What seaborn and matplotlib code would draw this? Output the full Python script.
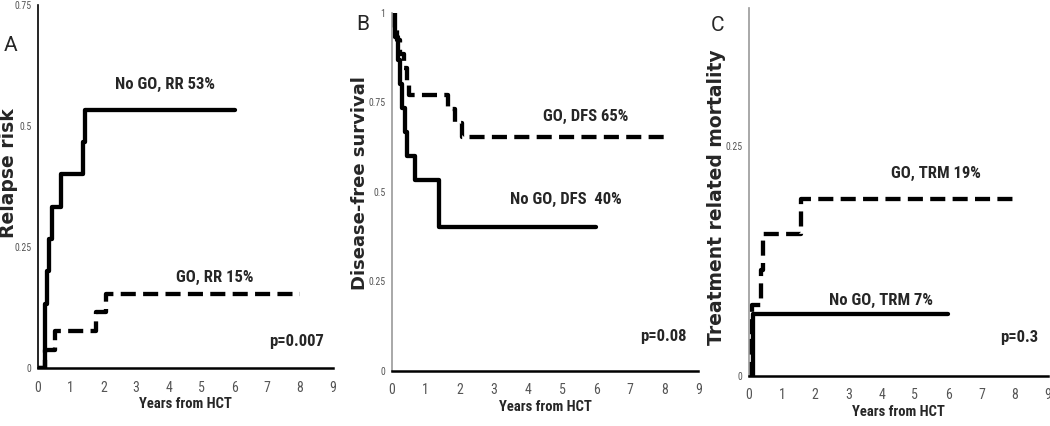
import matplotlib
matplotlib.use("Agg")
import pandas as pd
import seaborn as sns
import matplotlib.pyplot as plt
from matplotlib import font_manager

# --- data (years from HCT, step values) ---
# A: relapse risk (cumulative incidence)
a_nogo_t = [0, 0.22, 0.27, 0.35, 0.42, 0.70, 1.39, 1.44, 6.0]
a_nogo_v = [0, 0.133, 0.2, 0.267, 0.333, 0.4, 0.467, 0.533, 0.533]
a_go_t = [0, 0.22, 0.53, 1.79, 2.08, 8.0]
a_go_v = [0, 0.038, 0.077, 0.115, 0.154, 0.154]

# B: disease-free survival
b_nogo_t = [0, 0.10, 0.20, 0.25, 0.30, 0.38, 0.44, 0.70, 1.40, 6.0]
b_nogo_v = [1.0, 0.933, 0.867, 0.8, 0.733, 0.667, 0.6, 0.533, 0.4, 0.4]
b_go_t = [0, 0.08, 0.15, 0.25, 0.35, 0.45, 0.50, 1.65, 1.85, 2.07, 8.0]
b_go_v = [1.0, 0.962, 0.923, 0.885, 0.846, 0.808, 0.769, 0.731, 0.692, 0.654, 0.654]

# C: treatment related mortality
c_nogo_t = [0, 0.13, 6.0]
c_nogo_v = [0, 0.067, 0.067]
c_go_t = [0, 0.04, 0.11, 0.38, 0.43, 1.58, 8.0]
c_go_v = [0, 0.038, 0.077, 0.115, 0.154, 0.192, 0.192]

x_ticks = list(range(0, 10))

sns.set_style("white")
installed = {f.name for f in font_manager.fontManager.ttflist}
narrow = next((n for n in ["Roboto Condensed", "Archivo Narrow", "Liberation Sans"] if n in installed),
              "DejaVu Sans")
plt.rcParams["font.family"] = [narrow, "DejaVu Sans"]

fig = plt.figure(figsize=(10.5, 4.26), dpi=100)


def curve(ax, t, v, dashed):
    df = pd.DataFrame({"t": t, "v": v})
    sns.lineplot(data=df, x="t", y="v", ax=ax, drawstyle="steps-post",
                 estimator=None, sort=False, color="black", lw=3.1)
    if dashed:
        ax.lines[-1].set_dashes((3.5, 1.7))


def style(ax, ylim, yticks, spine_col):
    ax.set_xlim(0, 9)
    ax.set_ylim(*ylim)
    ax.set_xticks(x_ticks)
    ax.set_yticks(yticks)
    ax.set_yticklabels([f"{y:g}" for y in yticks])
    for s in ["top", "right"]:
        ax.spines[s].set_visible(False)
    ax.spines["left"].set_color(spine_col)
    ax.spines["left"].set_linewidth(1.2)
    ax.spines["bottom"].set_color("black")
    ax.spines["bottom"].set_linewidth(1.8)
    ax.tick_params(axis="x", direction="inout", length=6, width=1, colors="#333",
                   labelsize=10, labelcolor="#555", pad=6)
    ax.tick_params(axis="y", direction="inout", length=5, width=1, colors="#333",
                   labelsize=7, labelcolor="#555", pad=2)
    ax.set_xlabel("Years from HCT", fontsize=10.5, fontweight="bold", labelpad=2)
    ax.set_ylabel("")
    ax.patch.set_alpha(0)


def ylab(xpx, ypx, text, size):
    fig.text(xpx / 1050, 1 - ypx / 426, text, rotation=90, ha="center", va="center",
             fontsize=size, fontweight="bold", family="DejaVu Sans")


ann = dict(fontsize=12, ha="center", va="center", fontweight="bold")
letter = dict(fontsize=15, ha="center", va="center", family=["Roboto", "DejaVu Sans"])

# panel A
axA = fig.add_axes([0.036, 0.136, 0.281, 0.852])
curve(axA, a_nogo_t, a_nogo_v, False)
curve(axA, a_go_t, a_go_v, True)
style(axA, (0, 0.75), [0, 0.25, 0.5, 0.75], "black")
ylab(9, 173, "Relapse risk", 13.5)
axA.text(-0.84, 0.667, "A", **letter)
axA.text(3.87, 0.585, "No GO, RR 53%", **ann)
axA.text(5.39, 0.188, "GO, RR 15%", **ann)
axA.text(7.88, 0.054, "p=0.007", **ann)

# panel B
axB = fig.add_axes([0.373, 0.13, 0.292, 0.840])
curve(axB, b_nogo_t, b_nogo_v, False)
curve(axB, b_go_t, b_go_v, True)
style(axB, (0, 1.0), [0, 0.25, 0.5, 0.75, 1], "#999")
ylab(360, 183, "Disease-free survival", 13)
axB.text(-0.84, 0.968, "B", **letter)
axB.text(5.69, 0.71, "GO, DFS 65%", **ann)
axB.text(5.11, 0.478, "No GO, DFS  40%", **ann)
axB.text(7.97, 0.094, "p=0.08", **ann)

# panel C
axC = fig.add_axes([0.713, 0.118, 0.285, 0.864])
curve(axC, c_nogo_t, c_nogo_v, False)
curve(axC, c_go_t, c_go_v, True)
style(axC, (0, 0.4), [0, 0.25], "#999")
ylab(716, 197, "Treatment related mortality", 13.5)
axC.text(-0.93, 0.381, "C", **letter)
axC.text(5.64, 0.22, "GO, TRM 19%", **ann)
axC.text(3.99, 0.082, "No GO, TRM 7%", **ann)
axC.text(8.14, 0.042, "p=0.3", **ann)

fig.savefig("out.png", dpi=100)
